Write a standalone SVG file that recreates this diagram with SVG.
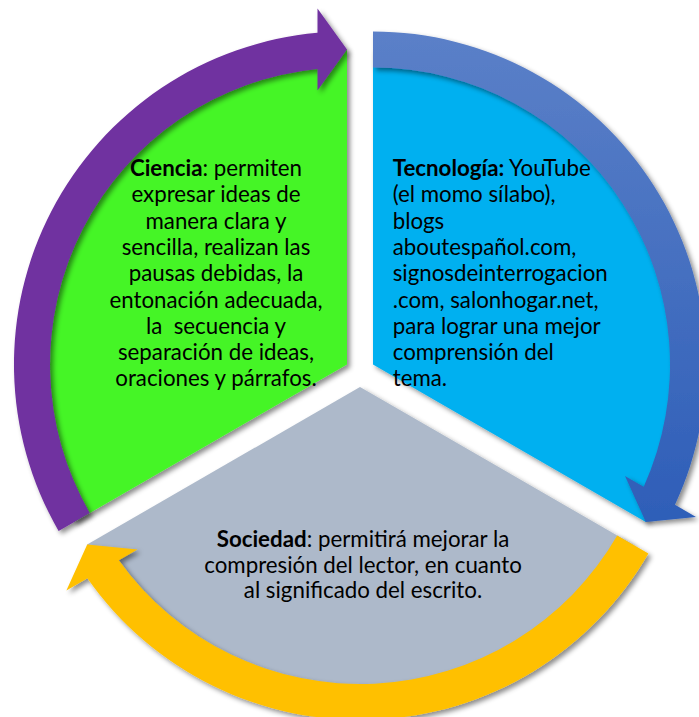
<svg xmlns="http://www.w3.org/2000/svg" width="699" height="717" viewBox="0 0 699 717">
  <defs>
    <filter id="shadow" x="-10%" y="-10%" width="120%" height="120%">
      <feDropShadow dx="3" dy="3" stdDeviation="2.5" flood-color="#000" flood-opacity="0.45"/>
    </filter>
    <linearGradient id="blueGrad" x1="0" y1="0" x2="0" y2="1">
      <stop offset="0" stop-color="#5B80C8"/>
      <stop offset="1" stop-color="#2E5EB8"/>
    </linearGradient>
    <style>
      .seg { filter: url(#shadow); }
      .arr { filter: url(#shadow); }
      .txt { font-family: Lato, "Liberation Sans", sans-serif; font-size: 22.3px; fill: #000; }
      .b { font-weight: bold; }
    </style>
  </defs>
  <rect width="699" height="717" fill="#fff"/>

  <g id="ciencia">
    <path class="seg" d="M347,364.5 L74.2,522 A315,315 0 0 1 347,49.5 Z" fill="#45F528"/>
  </g>
  <g id="tecnologia">
    <path class="seg" d="M373,364.5 L373,49.5 A315,315 0 0 1 645.8,522 Z" fill="#00B0F0"/>
  </g>
  <g id="sociedad">
    <path class="seg" d="M360,387 L632.8,544.5 A315,315 0 0 1 87.2,544.5 Z" fill="#ADB9CA"/>
  </g>

  <g id="connectors">
    <path class="arr" d="M58.6,531 A333,333 0 0 1 317.5,32.8 L317.5,8.5 L347,49.5 L317.5,90.5 L317.5,69 A297,297 0 0 0 89.8,513 Z" fill="#7030A0"/>
    <path class="arr" d="M373,31.5 A333,333 0 0 1 675,504.8 L696,517 L645.8,522 L625,476 L643.7,486.7 A297,297 0 0 0 373,67.5 Z" fill="url(#blueGrad)"/>
    <path class="arr" d="M648.4,553.5 A333,333 0 0 1 87.4,578.3 L66.4,590.6 L87.2,544.5 L137.5,549.6 L118.8,560.3 A297,297 0 0 0 617.2,535.5 Z" fill="#FFC000"/>
  </g>

  <g id="ciencia-text">
    <text class="txt" text-anchor="middle"><tspan x="216" y="176"><tspan class="b">Ciencia</tspan>: permiten</tspan><tspan x="216" y="202.3">expresar ideas de</tspan><tspan x="216" y="228.6">manera clara y</tspan><tspan x="216" y="254.9">sencilla, realizan las</tspan><tspan x="216" y="281.2">pausas debidas, la</tspan><tspan x="216" y="307.5">entonación adecuada,</tspan><tspan x="216" y="333.8">la&#160; secuencia y</tspan><tspan x="216" y="360.1">separación de ideas,</tspan><tspan x="216" y="386.4">oraciones y párrafos.</tspan></text>
  </g>
  <g id="tecnologia-text">
    <text class="txt"><tspan x="392.7" y="176"><tspan class="b">Tecnología:</tspan> YouTube</tspan><tspan x="392.7" y="202.3">(el momo sílabo),</tspan><tspan x="392.7" y="228.6">blogs</tspan><tspan x="392.7" y="254.9">aboutespañol.com,</tspan><tspan x="392.7" y="281.2">signosdeinterrogacion</tspan><tspan x="392.7" y="307.5">.com, salonhogar.net,</tspan><tspan x="392.7" y="333.8">para lograr una mejor</tspan><tspan x="392.7" y="360.1">comprensión del</tspan><tspan x="392.7" y="386.4">tema.</tspan></text>
  </g>
  <g id="sociedad-text">
    <text class="txt" text-anchor="middle"><tspan x="363" y="546.7"><tspan class="b">Sociedad</tspan>: permitirá mejorar la</tspan><tspan x="363" y="572.7">compresión del lector, en cuanto</tspan><tspan x="363" y="598.3">al significado del escrito.</tspan></text>
  </g>
</svg>
